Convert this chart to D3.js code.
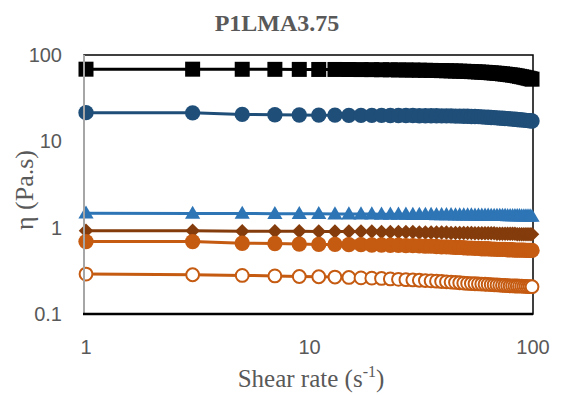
<!DOCTYPE html>
<html><head><meta charset="utf-8">
<script src="https://cdn.jsdelivr.net/npm/d3@7/dist/d3.min.js"></script>
<style>body{margin:0;background:#fff}svg{display:block}</style>
</head><body>
<script>
const shearRate = [1,3,5,7,9,11,13,15,17,19,21,23,25,27,29,31,33,35,37,39,41,43,45,47,49,51,53,55,57,59,61,63,65,67,69,71,73,75,77,79,81,83,85,87,89,91,93,95,97,99];
const seriesSquares = [68.5,68.5,68.3,68.2,68.1,68,68,67.9,67.8,67.7,67.5,67.4,67.2,67,66.9,66.7,66.5,66.3,66.1,65.9,65.7,65.5,65.2,65,64.8,64.5,64.2,63.9,63.6,63.3,63,62.6,62.2,61.8,61.4,61,60.5,60,59.5,59,58.5,58,57.3,56.6,56,55.3,54.6,53.9,53.2,52.5];
const seriesDarkCircles = [21.5,21.4,20.5,20.3,20.2,20.1,20.1,20,20,20,20,19.9,19.9,19.9,19.9,19.8,19.8,19.8,19.8,19.7,19.7,19.7,19.6,19.6,19.5,19.5,19.4,19.4,19.3,19.2,19.1,19,18.9,18.8,18.7,18.6,18.5,18.4,18.3,18.2,18.1,18,17.9,17.8,17.7,17.6,17.5,17.4,17.3,17.2];
const seriesTriangles = [1.47,1.46,1.46,1.45,1.45,1.45,1.44,1.44,1.44,1.44,1.43,1.43,1.43,1.43,1.42,1.42,1.42,1.42,1.41,1.41,1.41,1.41,1.40,1.40,1.40,1.40,1.40,1.39,1.39,1.39,1.39,1.39,1.38,1.38,1.38,1.38,1.38,1.38,1.37,1.37,1.37,1.37,1.37,1.37,1.36,1.36,1.36,1.36,1.36,1.35];
const seriesDiamonds = [0.92,0.92,0.91,0.91,0.91,0.90,0.90,0.90,0.90,0.90,0.89,0.89,0.89,0.89,0.89,0.88,0.88,0.88,0.88,0.88,0.88,0.87,0.87,0.87,0.87,0.87,0.87,0.86,0.86,0.86,0.86,0.86,0.86,0.86,0.85,0.85,0.85,0.85,0.85,0.85,0.85,0.85,0.84,0.84,0.84,0.84,0.84,0.84,0.84,0.84];
const seriesOrangeFilled = [0.69,0.69,0.66,0.655,0.645,0.64,0.64,0.635,0.635,0.63,0.63,0.625,0.625,0.62,0.62,0.615,0.61,0.61,0.605,0.60,0.60,0.595,0.59,0.59,0.585,0.58,0.58,0.575,0.575,0.57,0.57,0.57,0.565,0.565,0.56,0.56,0.56,0.56,0.555,0.555,0.555,0.55,0.55,0.55,0.55,0.55,0.545,0.545,0.545,0.545];
const seriesOrangeOpen = [0.29,0.285,0.28,0.276,0.272,0.27,0.268,0.265,0.262,0.26,0.258,0.255,0.252,0.25,0.248,0.246,0.244,0.242,0.24,0.238,0.236,0.234,0.232,0.23,0.228,0.226,0.225,0.224,0.223,0.222,0.221,0.22,0.219,0.218,0.217,0.216,0.215,0.214,0.213,0.212,0.212,0.211,0.211,0.210,0.210,0.209,0.209,0.208,0.208,0.207];
const xTicks = [1,10,100];
const yTicks = [0.1,1,10,100];
const titleText = "P1LMA3.75";

const W = 562, H = 395;
const svg = d3.select("body").append("svg").attr("width", W).attr("height", H);
const x = d3.scaleLog().domain([1,100]).range([86,533]);
const y = d3.scaleLog().domain([0.1,100]).range([314,55]);

const series = [
  {v: seriesSquares, color: "#000000", sym: "square"},
  {v: seriesDarkCircles, color: "#1F4E79", sym: "circle"},
  {v: seriesTriangles, color: "#2E75B6", sym: "triangle"},
  {v: seriesDiamonds, color: "#843C0C", sym: "diamond"},
  {v: seriesOrangeFilled, color: "#C55A11", sym: "circle"},
  {v: seriesOrangeOpen, color: "#C55A11", sym: "open"}
];

svg.append("rect").attr("x", x.range()[0]-2).attr("y", y.range()[1]).attr("width", x.range()[1]-x.range()[0]+2)
  .attr("height", y.range()[0]-y.range()[1]).attr("fill","none").attr("stroke","#000").attr("stroke-width",1.5);

const line = d3.line().x((d,i)=>x(shearRate[i])).y(d=>y(d));
const sq = d3.symbol().type(d3.symbolSquare).size(225)();
const ci = d3.symbol().type(d3.symbolCircle).size(185)();
const tr = d3.symbol().type(d3.symbolTriangle).size(100)();
const di = d3.symbol().type(d3.symbolSquare).size(105)();

series.forEach(s => {
  const g = svg.append("g");
  g.append("path").attr("d", line(s.v)).attr("fill","none").attr("stroke", s.color).attr("stroke-width", 3);
  s.v.forEach((d,i) => {
    const cx = x(shearRate[i]), cy = y(d);
    if (s.sym === "open") {
      g.append("circle").attr("cx",cx).attr("cy",cy).attr("r",6.4).attr("fill","#fff").attr("stroke",s.color).attr("stroke-width",2);
    } else {
      const p = s.sym==="square"?sq:s.sym==="circle"?ci:s.sym==="triangle"?tr:di;
      g.append("path").attr("d",p).attr("fill",s.color)
        .attr("transform", `translate(${cx},${cy})` + (s.sym==="diamond"?" rotate(45)":"") + (s.sym==="triangle"?" translate(0,1)":""));
    }
  });
});

svg.append("line").attr("x1",x.range()[0]-2).attr("x2",x.range()[0]-2).attr("y1",y.range()[1]).attr("y2",y.range()[0])
  .attr("stroke","#A6A6A6").attr("stroke-width",2);
svg.append("line").attr("x1",x.range()[0]-3).attr("x2",x.range()[1]).attr("y1",y.range()[0]).attr("y2",y.range()[0])
  .attr("stroke","#000").attr("stroke-width",2.5);

const tickFont = "'Liberation Sans', Arial, sans-serif";
svg.append("g").selectAll("text").data(xTicks).join("text")
  .attr("x", d=>x(d)).attr("y", 354).attr("text-anchor","middle")
  .attr("font-family", tickFont).attr("font-size", 20).attr("fill","#595959").text(d=>d3.format("~g")(d));
svg.append("g").selectAll("text").data(yTicks).join("text")
  .attr("x", 62).attr("y", d=>y(d)+7).attr("text-anchor","end")
  .attr("font-family", tickFont).attr("font-size", 20).attr("fill","#595959").text(d=>d3.format("~g")(d));

const serif = "'Liberation Serif', 'Times New Roman', serif";
svg.append("text").attr("x", 277).attr("y", 31).attr("text-anchor","middle").attr("font-family",serif)
  .attr("font-size",24).attr("font-weight","bold").attr("fill","#595959").text(titleText);
const xt = svg.append("text").attr("x", 311).attr("y", 387).attr("text-anchor","middle").attr("font-family",serif)
  .attr("font-size",25).attr("fill","#595959");
xt.append("tspan").text("Shear rate (s");
xt.append("tspan").attr("font-size",16).attr("dy",-10).text("-1");
xt.append("tspan").attr("dy",10).text(")");
svg.append("text").attr("transform","translate(33,190) rotate(-90)").attr("text-anchor","middle").attr("font-family",serif)
  .attr("font-size",26).attr("fill","#595959").text("η (Pa.s)");
</script>
</body></html>
